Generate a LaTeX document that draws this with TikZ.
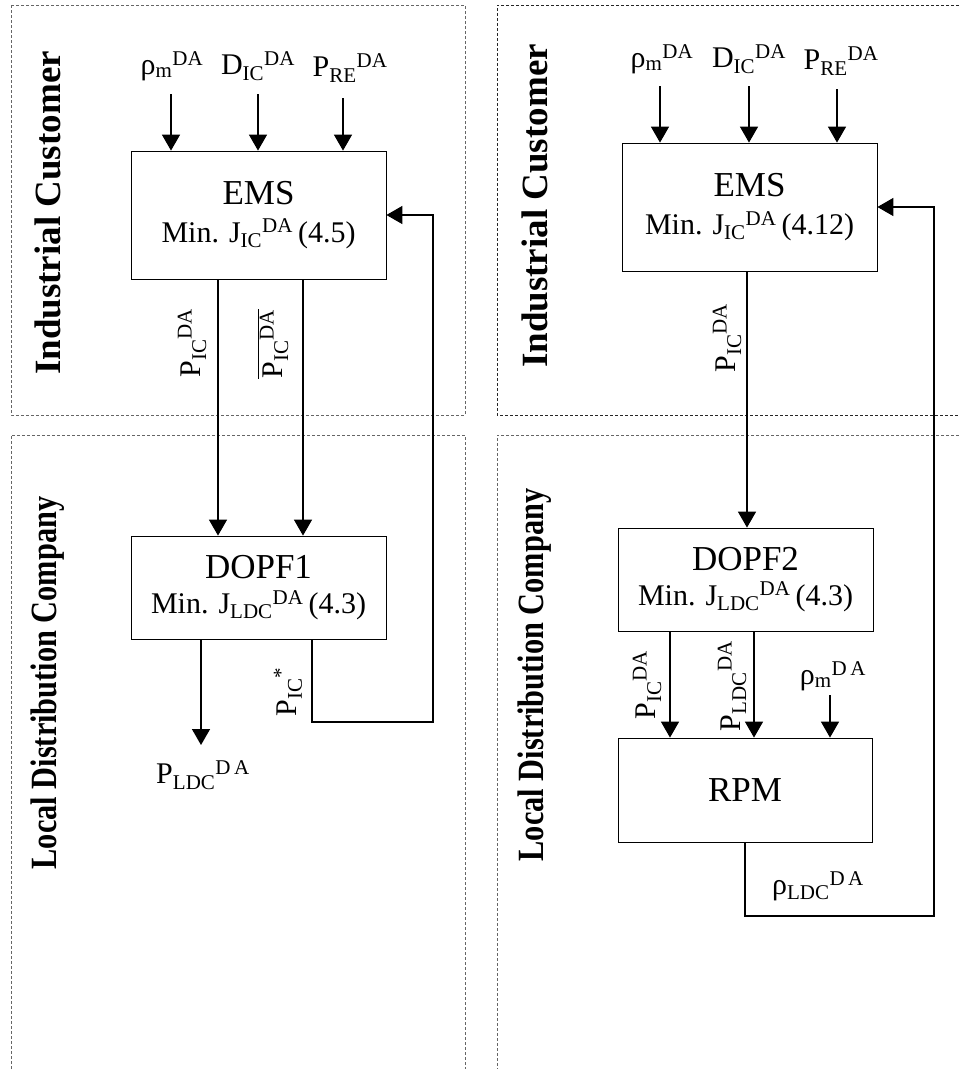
\documentclass[tikz,border=0pt]{standalone}
\usepackage{fontspec}
\setmainfont{Liberation Serif}
\usetikzlibrary{arrows.meta}
\newcommand\SbSp[3]{#1\textsubscript{#2}\textsuperscript{#3}}
\begin{document}
\begin{tikzpicture}[x=1pt,y=-1pt,
  panel/.style={draw=black!60,dash pattern=on 3pt off 2pt,line width=0.8pt},
  panelk/.style={draw=black!85,dash pattern=on 3pt off 2pt,line width=0.8pt},
  blk/.style={draw,line width=0.8pt,minimum width=255pt,align=center,inner sep=0pt},
  arr/.style={line width=1.5pt,-{Triangle[width=18pt,length=16pt]}},
  lab/.style={font=\fontsize{30}{32}\selectfont,inner sep=0pt},
  side/.style={font=\fontsize{37}{40}\selectfont\bfseries,rotate=90,inner sep=0pt}]
\useasboundingbox (0,0) rectangle (959,1069);
% panels
\draw[panel] (11,5) rectangle (465,415);
\draw[panel] (11,1069) -- (11,435) -- (465,435) -- (465,1069);
\draw[panelk] (959,5) -- (497,5) -- (497,415) -- (959,415);
\draw[panel] (959,435) -- (497,435) -- (497,1069);
% side labels
\node[side] (icL) at (48,213) {Industrial Customer};
\node[side] (ldcL) at (48,683) {\scalebox{0.82}[1]{Local Distribution Company}};
\node[side] (icR) at (535,206) {Industrial Customer};
\node[side] (ldcR) at (535,675) {\scalebox{0.82}[1]{Local Distribution Company}};
% ===== left =====
\node[blk,minimum height=128pt] (emsL) at (258.5,215)
  {{\fontsize{35}{38}\selectfont EMS}\\[13pt]{\fontsize{30}{32}\selectfont Min. \SbSp{J}{IC}{DA}\,(4.5)}};
\node[blk,minimum height=103pt] (dopfL) at (258.5,587.5)
  {{\fontsize{35}{38}\selectfont DOPF1}\\[11pt]{\fontsize{30}{32}\selectfont Min. \SbSp{J}{LDC}{DA}\,(4.3)}};
\node[lab] (rhoL) at (172,66) {\SbSp{ρ}{m}{DA}};
\node[lab] (dicL) at (258,66) {\SbSp{D}{IC}{DA}};
\node[lab] (preL) at (350,68) {\SbSp{P}{RE}{DA}};
\coordinate (a1) at (171,94);
\coordinate (a2) at (258,94);
\coordinate (a3) at (343,98);
\draw[arr] (a1) -- (a1 |- emsL.north);
\draw[arr] (a2) -- (a2 |- emsL.north);
\draw[arr] (a3) -- (a3 |- emsL.north);
\coordinate (o1) at (218,279);
\coordinate (o2) at (303,279);
\draw[arr] (o1) -- (o1 |- dopfL.north);
\draw[arr] (o2) -- (o2 |- dopfL.north);
\node[lab,rotate=90] (picL) at (192,343) {\SbSp{P}{IC}{DA}};
\node[lab,rotate=90] (picbL) at (273,344) {$\overline{\mbox{\SbSp{P}{IC}{DA}}}$};
\coordinate (d1) at (201,639);
\coordinate (d1e) at (201,745);
\draw[arr] (d1) -- (d1e);
\node[lab] (pldcL) at (203,775) {\SbSp{P}{LDC}{D\,A}};
\coordinate (f1) at (312,639);
\coordinate (f2) at (312,722);
\coordinate (f3) at (433,722);
\draw[arr] (f1) -- (f2) -- (f3) -- (f3 |- emsL.east) -- (emsL.east);
\node[lab,rotate=90] (pstar) at (288,692) {\SbSp{P}{IC}{*}};
% ===== right =====
\node[blk,minimum height=128pt] (emsR) at (749.5,207)
  {{\fontsize{35}{38}\selectfont EMS}\\[14pt]{\fontsize{30}{32}\selectfont Min. \SbSp{J}{IC}{DA}\,(4.12)}};
\node[blk,minimum height=103pt] (dopfR) at (745.5,579.5)
  {{\fontsize{35}{38}\selectfont DOPF2}\\[10pt]{\fontsize{30}{32}\selectfont Min. \SbSp{J}{LDC}{DA}\,(4.3)}};
\node[blk,minimum height=104pt,minimum width=254pt] (rpm) at (745,790)
  {{\fontsize{35}{38}\selectfont RPM}};
\node[lab] (rhoR) at (662,59) {\SbSp{ρ}{m}{DA}};
\node[lab] (dicR) at (749,59) {\SbSp{D}{IC}{DA}};
\node[lab] (preR) at (841,61) {\SbSp{P}{RE}{DA}};
\coordinate (b1) at (660,86);
\coordinate (b2) at (749,86);
\coordinate (b3) at (837,89);
\draw[arr] (b1) -- (b1 |- emsR.north);
\draw[arr] (b2) -- (b2 |- emsR.north);
\draw[arr] (b3) -- (b3 |- emsR.north);
\coordinate (p1) at (747,271);
\draw[arr] (p1) -- (p1 |- dopfR.north);
\node[lab,rotate=90] (picR) at (727,338) {\SbSp{P}{IC}{DA}};
\coordinate (q1) at (670,631);
\coordinate (q2) at (754,631);
\draw[arr] (q1) -- (q1 |- rpm.north);
\draw[arr] (q2) -- (q2 |- rpm.north);
\node[lab,rotate=90] (picR2) at (647,685) {\SbSp{P}{IC}{DA}};
\node[lab,rotate=90] (pldcR) at (732,686) {\SbSp{P}{LDC}{DA}};
\coordinate (q3) at (830,695);
\draw[arr] (q3) -- (q3 |- rpm.north);
\node[lab] (rhoR2) at (833,676) {\SbSp{ρ}{m}{D\,A}};
\coordinate (g1) at (745,916);
\coordinate (g2) at (934,916);
\draw[arr] (rpm.south) -- (g1) -- (g2) -- (g2 |- emsR.east) -- (emsR.east);
\node[lab] (rholdc) at (818,886) {\SbSp{ρ}{LDC}{D\,A}};
\end{tikzpicture}
\end{document}
